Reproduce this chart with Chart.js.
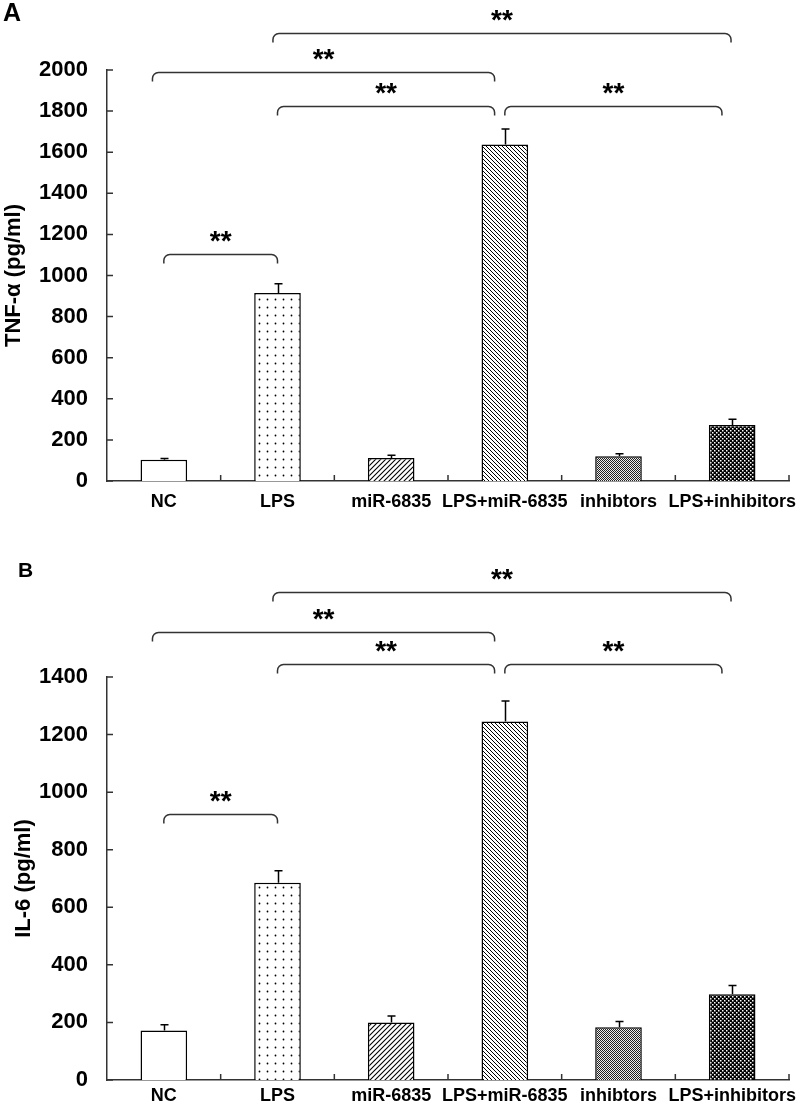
<!DOCTYPE html>
<html><head><meta charset="utf-8">
<script src="https://cdn.jsdelivr.net/npm/chart.js@4"></script>
<style>
html,body{margin:0;padding:0;background:#fff;}
#wrap{position:relative;width:800px;height:1111px;overflow:hidden;background:#fff}
canvas{position:absolute;left:0}
.lbl{position:absolute;font-family:"Liberation Sans",Arial,sans-serif;font-weight:bold;line-height:1;color:#000}
</style></head><body>
<div id="wrap">
<canvas id="cA" width="800" height="540" style="top:0"></canvas>
<canvas id="cB" width="800" height="571" style="top:540px"></canvas>
<div class="lbl" style="left:3px;top:0;font-size:25px">A</div>
<div class="lbl" style="left:18px;top:559px;font-size:21px">B</div>
</div>
<script>
// ---------- data ----------
const categories = ['NC', 'LPS', 'miR-6835', 'LPS+miR-6835', 'inhibtors', 'LPS+inhibitors'];
const tnfValues = [103, 915, 112, 1638, 120, 272];
const tnfErrors = [6, 45, 13, 75, 12, 28];
const il6Values = [172, 685, 200, 1245, 183, 298];
const il6Errors = [20, 42, 22, 72, 20, 30];
const tnfTitle = 'TNF-α (pg/ml)';
const il6Title = 'IL-6 (pg/ml)';
const tnfMax = 2000;
const il6Max = 1400;
const tickStep = 200;
// significance brackets: category positions (fractional index) and level in data units
const tnfBrackets = [
  {from: 0, to: 1, y: 1105, label: '**'},
  {from: -0.1, to: 2.91, y: 1990, label: '**'},
  {from: 1, to: 2.91, y: 1825, label: '**'},
  {from: 3, to: 4.91, y: 1825, label: '**'},
  {from: 0.96, to: 4.99, y: 2180, label: '**'}
];
const il6Brackets = [
  {from: 0, to: 1, y: 924, label: '**'},
  {from: -0.1, to: 2.91, y: 1556, label: '**'},
  {from: 1, to: 2.91, y: 1445, label: '**'},
  {from: 3, to: 4.91, y: 1445, label: '**'},
  {from: 0.96, to: 4.99, y: 1695, label: '**'}
];

const FAMILY = '"Liberation Sans", Arial, Helvetica, sans-serif';

// ---------- patterns ----------
function pat(size, bg, draw) {
  const c = document.createElement('canvas');
  c.width = c.height = size;
  const g = c.getContext('2d');
  g.fillStyle = bg; g.fillRect(0, 0, size, size);
  draw(g, size);
  return document.createElement('canvas').getContext('2d').createPattern(c, 'repeat');
}
const patterns = [
  '#ffffff',
  pat(8, '#fff', (g) => { g.fillStyle = '#000'; g.beginPath(); g.arc(3.5, 3.5, 0.9, 0, Math.PI * 2); g.fill(); }),
  pat(5, '#fff', (g, s) => { g.strokeStyle = '#000'; g.lineWidth = 1.1; g.beginPath();
    g.moveTo(-1, s + 1); g.lineTo(s + 1, -1); g.moveTo(-1, 1); g.lineTo(1, -1); g.moveTo(s - 1, s + 1); g.lineTo(s + 1, s - 1); g.stroke(); }),
  pat(4, '#fff', (g, s) => { g.strokeStyle = '#000'; g.lineWidth = 1; g.beginPath();
    g.moveTo(-1, -1); g.lineTo(s + 1, s + 1); g.moveTo(s - 1, -1); g.lineTo(s + 1, 1); g.moveTo(-1, s - 1); g.lineTo(1, s + 1); g.stroke(); }),
  pat(2, '#eee', (g) => { g.fillStyle = '#222'; g.fillRect(0, 0, 1, 1); g.fillRect(1, 1, 1, 1); }),
  pat(4, '#000', (g) => { g.fillStyle = '#fff'; g.fillRect(0, 0, 1.5, 1.5); g.fillRect(2, 2, 1.5, 1.5); })
];

// ---------- plugins ----------
function errorBarPlugin(errors) {
  return {
    id: 'errbars',
    afterDatasetsDraw(chart) {
      const ctx = chart.ctx, ys = chart.scales.y;
      const meta = chart.getDatasetMeta(0);
      const vals = chart.data.datasets[0].data;
      ctx.save();
      ctx.strokeStyle = '#000'; ctx.lineWidth = 1.5;
      meta.data.forEach((el, i) => {
        const yTop = ys.getPixelForValue(vals[i] + errors[i]);
        const x = Math.round(el.x) + 0.5;
        ctx.beginPath();
        ctx.moveTo(x, el.y); ctx.lineTo(x, yTop);
        ctx.moveTo(x - 4, yTop); ctx.lineTo(x + 4, yTop);
        ctx.stroke();
      });
      ctx.restore();
    }
  };
}
const tickPlugin = {
  id: 'innerTicks',
  afterDraw(chart) {
    const ctx = chart.ctx, xs = chart.scales.x, ys = chart.scales.y;
    const a = chart.chartArea;
    ctx.save();
    ctx.strokeStyle = '#333'; ctx.lineWidth = 1.5;
    ctx.beginPath();
    ys.ticks.forEach(t => {
      const y = ys.getPixelForValue(t.value);
      ctx.moveTo(a.left, y); ctx.lineTo(a.left + 6, y);
    });
    for (let i = 0; i < categories.length; i++) {
      const x = xs.getPixelForValue(i + 0.5);
      ctx.moveTo(x, a.bottom); ctx.lineTo(x, a.bottom - 6);
    }
    ctx.stroke();
    ctx.restore();
  }
};
function bracketPlugin(brackets) {
  return {
    id: 'brackets',
    afterDraw(chart) {
      const ctx = chart.ctx, xs = chart.scales.x, ys = chart.scales.y;
      ctx.save();
      ctx.strokeStyle = '#333'; ctx.lineWidth = 1.5;
      const r = 6, drop = 9;
      brackets.forEach(b => {
        const x1 = xs.getPixelForValue(b.from), x2 = xs.getPixelForValue(b.to);
        const y = Math.round(ys.getPixelForValue(b.y)) + 0.5;
        ctx.beginPath();
        ctx.moveTo(x1, y + drop);
        ctx.lineTo(x1, y + r);
        ctx.arcTo(x1, y, x1 + r, y, r);
        ctx.lineTo(x2 - r, y);
        ctx.arcTo(x2, y, x2, y + r, r);
        ctx.lineTo(x2, y + drop);
        ctx.stroke();
        ctx.fillStyle = '#000';
        ctx.font = 'bold 28px ' + FAMILY;
        ctx.textAlign = 'center';
        ctx.textBaseline = 'alphabetic';
        ctx.fillText(b.label, (x1 + x2) / 2, y - 5);
      });
      ctx.restore();
    }
  };
}

function makeChart(id, values, errors, brackets, yMax, title, cfg) {
  return new Chart(document.getElementById(id), {
    type: 'bar',
    data: {
      labels: categories,
      datasets: [{
        data: values,
        backgroundColor: patterns,
        borderColor: '#000',
        borderWidth: 1.5,
        barPercentage: 0.41,
        categoryPercentage: 1
      }]
    },
    options: {
      responsive: false,
      animation: false,
      devicePixelRatio: 1,
      layout: {padding: {top: cfg.top, left: 0, right: 11, bottom: cfg.bottom}},
      plugins: {legend: {display: false}, tooltip: {enabled: false}},
      scales: {
        x: {
          grid: {display: false, drawTicks: false},
          border: {display: true, color: '#333', width: 1.5},
          ticks: {color: '#000', font: {family: FAMILY, size: 18, weight: 'bold'}, padding: cfg.xpad,
                  maxRotation: 0, minRotation: 0, autoSkip: false},
          afterFit(s) { s.height = cfg.xh; s.paddingLeft = 0; s.paddingRight = 0; }
        },
        y: {
          min: 0, max: yMax,
          ticks: {stepSize: tickStep, color: '#000', font: {family: FAMILY, size: 22, weight: 'bold'}, padding: 19,
                  callback: (v) => String(v)},
          grid: {display: false, drawTicks: false},
          border: {display: true, color: '#333', width: 1.5},
          title: {display: true, text: title, color: '#000', font: {family: FAMILY, size: 22, weight: 'bold'},
                  padding: {top: cfg.tpad, bottom: 0}},
          afterFit(s) { s.width = 107; s.paddingTop = 0; s.paddingBottom = 0; }
        }
      }
    },
    plugins: [errorBarPlugin(errors), tickPlugin, bracketPlugin(brackets)]
  });
}

makeChart('cA', tnfValues, tnfErrors, tnfBrackets, tnfMax, tnfTitle, {top: 70, bottom: 19, xh: 40, xpad: 10, tpad: 1});
makeChart('cB', il6Values, il6Errors, il6Brackets, il6Max, il6Title, {top: 137, bottom: 1, xh: 30, xpad: 5, tpad: 11});
</script>
</body></html>
